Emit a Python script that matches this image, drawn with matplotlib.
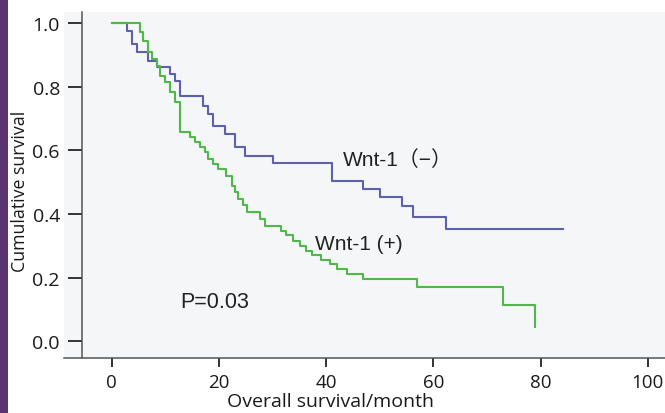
import matplotlib
matplotlib.use("Agg")
import matplotlib.pyplot as plt
from matplotlib.patches import Rectangle

# Wnt-1 (-) group: event times (months) and survival after each step
neg_t = [0, 2.9, 3.8, 4.8, 6.8, 8.4, 10.9, 11.8, 12.7, 17.1, 18.0, 18.9, 21.1,
         23.0, 24.9, 30.1, 41.0, 46.9, 50.0, 54.1, 56.2, 62.3, 84.1]
neg_s = [1.0, 0.976, 0.934, 0.908, 0.882, 0.861, 0.840, 0.819, 0.772, 0.740,
         0.714, 0.678, 0.652, 0.610, 0.583, 0.559, 0.505, 0.479, 0.453, 0.424,
         0.390, 0.353, 0.353]

# Wnt-1 (+) group
pos_t = [0, 5.2, 5.9, 6.8, 7.6, 8.4, 9.0, 9.9, 10.9, 11.8, 12.8, 14.6, 15.5,
         16.5, 17.4, 18.0, 18.9, 19.9, 21.4, 22.4, 23.0, 23.6, 24.5, 25.3,
         27.7, 28.6, 31.5, 32.5, 33.9, 35.1, 36.2, 37.3, 39.0, 40.7, 42.0,
         43.8, 46.9, 56.9, 73.0, 78.9]
pos_s = [1.0, 0.971, 0.944, 0.908, 0.887, 0.866, 0.835, 0.814, 0.782, 0.751,
         0.657, 0.641, 0.625, 0.610, 0.594, 0.573, 0.557, 0.541, 0.521, 0.489,
         0.468, 0.447, 0.427, 0.406, 0.385, 0.364, 0.348, 0.333, 0.316, 0.300,
         0.285, 0.270, 0.255, 0.243, 0.228, 0.212, 0.196, 0.170, 0.115, 0.045]

xticks = [0, 20, 40, 60, 80, 100]
yticks = [0.0, 0.2, 0.4, 0.6, 0.8, 1.0]

plt.rcParams['font.family'] = ['Open Sans', 'DejaVu Sans']

fig = plt.figure(figsize=(6.65, 4.14), dpi=100)
ax = fig.add_axes([0.0962, 0.1329, 0.9038, 0.8357])
ax.set_facecolor('#f4f6f8')

# purple strip on the left edge of the scan
fig.patches.append(Rectangle((0, 0), 0.012, 1, transform=fig.transFigure,
                             facecolor='#5a3470', edgecolor='none'))

ax.step(neg_t, neg_s, where='post', color='#5d60ab', lw=1.5)
ax.step(pos_t, pos_s, where='post', color='#4fb848', lw=1.5)

ax.set_xlim(-8.9, 103.2)
ax.set_ylim(-0.052, 1.0345)
ax.set_xticks(xticks)
ax.set_xticklabels([str(v) for v in xticks])
ax.set_yticks(yticks)
ax.set_yticklabels(['%.1f' % v for v in yticks])

for s in ['top', 'right']:
    ax.spines[s].set_visible(False)
ax.spines['left'].set_position(('data', -5.5))
for s in ['left', 'bottom']:
    ax.spines[s].set_color('#555555')
    ax.spines[s].set_linewidth(1.1)

ax.tick_params(axis='y', length=10, width=1.4, color='#333333', pad=6,
               labelsize=14, labelcolor='#1a1a1a')
ax.tick_params(axis='x', length=6.5, width=1.4, color='#333333', pad=4,
               labelsize=13.5, labelcolor='#1a1a1a')

ax.set_ylabel('Cumulative survival', fontsize=12.8, color='#1a1a1a', va='center')
ax.yaxis.set_label_coords(-0.073, 0.483)
ax.set_xlabel('Overall survival/month', fontsize=14, color='#1a1a1a', va='center')
ax.xaxis.set_label_coords(0.444, -0.124)

txt_font = ['Liberation Sans', 'Noto Sans CJK SC']
ax.text(43.1, 0.573, 'Wnt-1\uff08\u2212\uff09', fontsize=15, family=txt_font,
        color='#222222', va='center')
ax.text(37.9, 0.309, 'Wnt-1 (+)', fontsize=15, family=txt_font,
        color='#222222', va='center')
ax.text(12.7, 0.124, 'P=0.03', fontsize=15.5, family=txt_font,
        color='#222222', va='center')

fig.savefig('out.png', dpi=100)
